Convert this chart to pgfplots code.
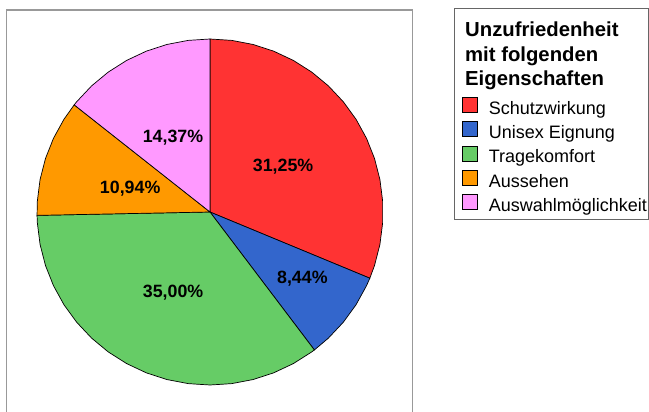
\documentclass[border=0pt]{standalone}
\usepackage{pgfplots}
\pgfplotsset{compat=1.18}
\usepgfplotslibrary{polar}
\usepackage{fontspec}
\setmainfont{Liberation Sans}
\definecolor{cRed}{HTML}{FF3333}
\definecolor{cBlue}{HTML}{3366CC}
\definecolor{cGreen}{HTML}{66CC66}
\definecolor{cOrange}{HTML}{FF9900}
\definecolor{cPink}{HTML}{FF99FF}
\begin{document}
\begin{tikzpicture}[x=1pt,y=1pt]
\useasboundingbox (0,0) rectangle (649,-412);
\fill[white] (0,0) rectangle (649,-412);
\draw[color=black!40, line width=1.2pt] (6.5,-420) -- (6.5,-10) -- (412.5,-10) -- (412.5,-420);
\draw[color=black!60, line width=1pt] (454.5,-9) rectangle (648.5,-219.5);
\node[anchor=base west, align=left, inner sep=0pt, font=\bfseries\fontsize{20.3}{24.5}\selectfont] at (465,-86) {Unzufriedenheit\\mit folgenden\\Eigenschaften};
\begin{polaraxis}[
  at={(210pt,-212pt)}, anchor=center,
  scale only axis, width=346pt, height=346pt,
  hide axis, ymin=0, ymax=1, xmin=0, xmax=360,
  clip=false,
]
\addplot[draw=black, line width=0.7pt, fill=cRed, mark=none] coordinates {
(0,0) (90,1) (82.8,1) (75.6,1) (68.4,1) (61.2,1) (54,1) (46.8,1) (39.6,1) (32.4,1) (25.2,1) (18,1) (10.8,1) (3.6,1) (-3.6,1) (-10.8,1) (-18,1) (-22.5,1) (0,0)};
\addplot[draw=black, line width=0.7pt, fill=cBlue, mark=none] coordinates {
(0,0) (-22.5,1) (-25.2,1) (-32.4,1) (-39.6,1) (-46.8,1) (-52.884,1) (0,0)};
\addplot[draw=black, line width=0.7pt, fill=cGreen, mark=none] coordinates {
(0,0) (-52.884,1) (-54,1) (-61.2,1) (-68.4,1) (-75.6,1) (-82.8,1) (-90,1) (-97.2,1) (-104.4,1) (-111.6,1) (-118.8,1) (-126,1) (-133.2,1) (-140.4,1) (-147.6,1) (-154.8,1) (-162,1) (-169.2,1) (-176.4,1) (-178.884,1) (0,0)};
\addplot[draw=black, line width=0.7pt, fill=cOrange, mark=none] coordinates {
(0,0) (-178.884,1) (-183.6,1) (-190.8,1) (-198,1) (-205.2,1) (-212.4,1) (-218.268,1) (0,0)};
\addplot[draw=black, line width=0.7pt, fill=cPink, mark=none] coordinates {
(0,0) (-218.268,1) (-219.6,1) (-226.8,1) (-234,1) (-241.2,1) (-248.4,1) (-255.6,1) (-262.8,1) (-270,1) (0,0)};
\begin{scope}[every node/.style={font=\bfseries\fontsize{17.8}{20}\selectfont, inner sep=0pt}]
\node at (axis cs:31.6,0.496) {31,25\%};
\node at (axis cs:-36,0.66) {8,44\%};
\node at (axis cs:-114.5,0.515) {35,00\%};
\node at (axis cs:164,0.48) {10,94\%};
\node at (axis cs:116.6,0.478) {14,37\%};
\end{scope}
\end{polaraxis}
\begin{axis}[
  at={(462pt,-97pt)}, anchor=north west,
  scale only axis, width=10pt, height=10pt,
  hide axis, xmin=0, xmax=1, ymin=0, ymax=1,
  legend cell align=left,
  legend style={at={(0,1)}, anchor=north west, draw=none, fill=none,
    inner sep=0pt, row sep=0pt, column sep=0pt,
    nodes={inner sep=0pt, text height=16.7pt, text depth=6.9pt},
    font=\fontsize{18}{22}\selectfont},
  legend image code/.code={\draw[#1, line width=0.8pt] (0pt,-3pt) rectangle (15pt,12pt); \node[inner sep=0pt, draw=none, fill=none, text height=0pt, text depth=0pt] at (25pt,0pt) {};},
]
\addlegendimage{fill=cRed, draw=black}
\addlegendentry{Schutzwirkung}
\addlegendimage{fill=cBlue, draw=black}
\addlegendentry{Unisex Eignung}
\addlegendimage{fill=cGreen, draw=black}
\addlegendentry{Tragekomfort}
\addlegendimage{fill=cOrange, draw=black}
\addlegendentry{Aussehen}
\addlegendimage{fill=cPink, draw=black}
\addlegendentry{Auswahlmöglichkeit}
\end{axis}
\end{tikzpicture}
\end{document}
